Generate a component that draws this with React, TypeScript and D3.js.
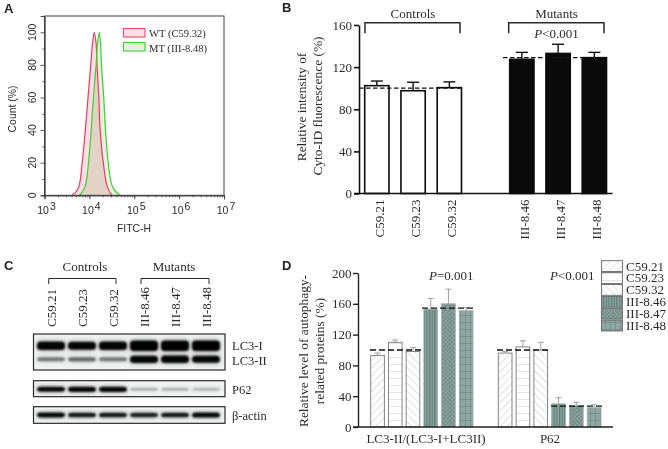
import React, { useEffect, useRef } from 'react';
import { select, scaleLinear, scaleLog, scaleBand, scalePoint, axisLeft, axisBottom, area, line, curveCatmullRom } from 'd3';

const sans = '"Liberation Sans", Arial, sans-serif';
const serif = '"Liberation Serif", "Times New Roman", serif';
const ink = '#2b2b2b';

// Panel A: histogram (log10 FITC-H, count %)
const wtLog = [3.62, 3.75, 3.84, 3.91, 3.97, 4.03, 4.07, 4.11, 4.15, 4.17, 4.21, 4.24, 4.31, 4.4, 4.5];
const wtCount = [0, 4, 20, 40, 60, 80, 93, 100, 93, 80, 60, 40, 20, 5, 0];
const mtLog = [3.78, 3.9, 3.98, 4.04, 4.09, 4.15, 4.18, 4.22, 4.25, 4.27, 4.32, 4.36, 4.42, 4.52, 4.68];
const mtCount = [0, 5, 20, 40, 60, 80, 93, 100, 93, 80, 60, 40, 20, 5, 0];
const decades = [3, 4, 5, 6, 7];
const countTicks = [0, 20, 40, 60, 80, 100];
const countMinor = [10, 30, 50, 70, 90, 110];

// Panel B
const samplesB = ['C59.21', 'C59.23', 'C59.32', 'gap', 'III-8.46', 'III-8.47', 'III-8.48'];
const controlsB = ['C59.21', 'C59.23', 'C59.32'];
const valuesB = [102.4, 97.6, 100.5, 0, 127.4, 133, 129];
const errTopB = [106.8, 105.6, 106, 0, 134, 141.7, 134];
const ticksB = [0, 40, 80, 120, 160];

// Panel C
const lanes = ['C59.21', 'C59.23', 'C59.32', 'III-8.46', 'III-8.47', 'III-8.48'];
const lc3One = [0.76, 0.68, 0.76, 1, 1, 1];
const lc3Two = [0.26, 0.3, 0.26, 0.76, 0.82, 0.72];
const p62Blot = [0.62, 0.7, 0.7, 0.12, 0.12, 0.1];
const actinBlot = [0.6, 0.55, 0.55, 0.52, 0.55, 0.65];

// Panel D
const samplesD = lanes;
const lc3Ratio = [93, 110, 98, 153, 160, 151];
const lc3Err = [96, 113, 103, 167, 179, 155];
const p62Level = [96, 104, 100, 30, 28, 25];
const p62Err = [98, 112, 110, 38, 32, 29];
const ticksD = [0, 40, 80, 120, 160, 200];
const patterns = ['hatchUp', 'hatchFlat', 'hatchDown', 'hatchVert', 'hatchCross', 'hatchGrid'];

const xA = scaleLog().domain([1e3, 1e7]).range([44.5, 224]);
const yA = scaleLinear().domain([0, 110]).range([195.3, 16]);
const xB = scaleBand().domain(samplesB).range([364.7, 606.5]).paddingInner(0.33).paddingOuter(0);
const yB = scaleLinear().domain([0, 160]).range([193.5, 25]);
const xC = scalePoint().domain(lanes).range([51, 206]);
const xD1 = scaleBand().domain(samplesD).range([370.7, 473]).paddingInner(0.23).paddingOuter(0);
const xD2 = scaleBand().domain(samplesD).range([498.3, 601]).paddingInner(0.23).paddingOuter(0);
const yD = scaleLinear().domain([0, 200]).range([427, 273]);
const bandHeight = scaleLinear().domain([0, 1]).range([3, 11]);
const bandAlpha = scaleLinear().domain([0, 0.6, 1]).range([0.14, 0.97, 1]);

const histArea = (log: number[], count: number[]) =>
	area<number>()
		.x((d) => xA(Math.pow(10, d)))
		.y0(yA(0))
		.y1((d, i) => yA(count[i]))
		.curve(curveCatmullRom)(log) || '';
const histLine = (log: number[], count: number[]) =>
	line<number>()
		.x((d) => xA(Math.pow(10, d)))
		.y((d, i) => yA(count[i]))
		.curve(curveCatmullRom)(log) || '';

function Bracket({ x0, x1, y, drop, width = 1.5 }) {
	return <path d={`M${x0},${y + drop}V${y}H${x1}V${y + drop}`} fill="none" stroke={ink} strokeWidth={width} />;
}

function Rotated({ x, y, children, size = 13, family = serif, anchor = 'middle' }) {
	return (
		<text transform={`translate(${x},${y}) rotate(-90)`} textAnchor={anchor} fontFamily={family} fontSize={size} fill={ink}>
			{children}
		</text>
	);
}

function BlotStrip({ y0, y1, rows, id }) {
	const bands = rows.map((row, r) =>
		row.levels.map((v, i) => (
			<rect
				key={`${r}-${i}`}
				x={xC(lanes[i]) - 14}
				y={row.y - (bandHeight(v) * row.scale) / 2}
				width={28}
				height={bandHeight(v) * row.scale}
				rx={3.5}
				fill="#040606"
				opacity={bandAlpha(v)}
			/>
		))
	);
	return (
		<g>
			<clipPath id={id}>
				<rect x={33.5} y={y0} width={191.5} height={y1 - y0} />
			</clipPath>
			<rect x={33.5} y={y0} width={191.5} height={y1 - y0} fill="#f1f3f2" />
			<g clipPath={`url(#${id})`}>
				<g filter="url(#haze)" opacity={0.3}>{bands}</g>
				<g filter="url(#soft)">{bands}</g>
			</g>
			<rect x={33.5} y={y0} width={191.5} height={y1 - y0} fill="none" stroke="#2a2a2a" strokeWidth={1.2} />
		</g>
	);
}

function BarsD({ scale, values, errs }) {
	return (
		<g>
			{samplesD.map((s, i) => {
				const cx = scale(s) + scale.bandwidth() / 2;
				return (
					<g key={s}>
						<line x1={cx} x2={cx} y1={yD(values[i])} y2={yD(errs[i])} stroke="#888" strokeWidth={0.8} />
						<line x1={cx - 3} x2={cx + 3} y1={yD(errs[i])} y2={yD(errs[i])} stroke="#888" strokeWidth={0.8} />
						<rect
							x={scale(s)}
							y={yD(values[i])}
							width={scale.bandwidth()}
							height={yD(0) - yD(values[i])}
							fill={`url(#${patterns[i]})`}
							stroke={i < 3 ? '#777' : '#9fb0ac'}
							strokeWidth={0.9}
						/>
					</g>
				);
			})}
		</g>
	);
}

export default function App() {
	const axisA = useRef<SVGGElement>(null);
	const axisB = useRef<SVGGElement>(null);
	const axisD = useRef<SVGGElement>(null);

	useEffect(() => {
		document.body.style.margin = '0';
		const a = select(axisA.current);
		a.selectAll('*').remove();
		a.append('g')
			.attr('transform', `translate(${xA.range()[0]},0)`)
			.call(axisLeft(yA).tickValues(countTicks).tickSize(4).tickFormat(() => ''));
		a.append('g')
			.attr('transform', `translate(${xA.range()[0]},0)`)
			.call(axisLeft(yA).tickValues(countMinor).tickSize(2).tickFormat(() => ''));
		a.append('g')
			.attr('transform', `translate(0,${yA(0)})`)
			.call(axisBottom(xA).tickValues(decades.map((d) => Math.pow(10, d))).tickSize(4).tickFormat(() => ''));
		a.append('g')
			.attr('transform', `translate(0,${yA(0)})`)
			.call(axisBottom(xA).tickValues(xA.ticks()).tickSize(2).tickFormat(() => ''));
		a.selectAll('path,line').attr('stroke', '#444').attr('stroke-width', 0.9);

		const b = select(axisB.current);
		b.selectAll('*').remove();
		b.append('g')
			.attr('transform', 'translate(359,0)')
			.call(axisLeft(yB).tickValues(ticksB).tickSize(5).tickSizeOuter(0));
		b.selectAll('path,line').attr('stroke', '#111').attr('stroke-width', 1.6);
		b.selectAll('text').attr('font-family', serif).attr('font-size', 13).attr('fill', ink).attr('x', -7);

		const d = select(axisD.current);
		d.selectAll('*').remove();
		d.append('g')
			.attr('transform', 'translate(358,0)')
			.call(axisLeft(yD).tickValues(ticksD).tickSize(5).tickSizeOuter(0));
		d.selectAll('path,line').attr('stroke', '#222').attr('stroke-width', 1.4);
		d.selectAll('text').attr('font-family', serif).attr('font-size', 13).attr('fill', ink).attr('x', -6.5);
	}, []);

	const bw = xB.bandwidth();

	return (
		<svg width={668} height={449} style={{ position: 'absolute', left: 0, top: 0, background: '#fff' }}>
			<defs>
				<filter id="soft" x="-5%" y="-40%" width="110%" height="180%">
					<feGaussianBlur stdDeviation="1.2" />
				</filter>
				<filter id="haze" x="-5%" y="-60%" width="110%" height="220%">
					<feGaussianBlur stdDeviation="3.2" />
				</filter>
				<pattern id="hatchUp" width="5.5" height="5.5" patternUnits="userSpaceOnUse" patternTransform="rotate(45)">
					<rect width="5.5" height="5.5" fill="#fff" />
					<line x1="0" x2="0" y1="0" y2="5.5" stroke="#cfcfcf" strokeWidth="1.2" />
				</pattern>
				<pattern id="hatchFlat" width="6" height="7" patternUnits="userSpaceOnUse">
					<rect width="6" height="7" fill="#fff" />
					<line x1="0" x2="6" y1="0" y2="0" stroke="#d2d2d2" strokeWidth="1.2" />
				</pattern>
				<pattern id="hatchDown" width="5.5" height="5.5" patternUnits="userSpaceOnUse" patternTransform="rotate(-45)">
					<rect width="5.5" height="5.5" fill="#fff" />
					<line x1="0" x2="0" y1="0" y2="5.5" stroke="#cfcfcf" strokeWidth="1.2" />
				</pattern>
				<pattern id="hatchVert" width="2.6" height="6" patternUnits="userSpaceOnUse">
					<rect width="2.6" height="6" fill="#8aa49f" />
					<line x1="0.6" x2="0.6" y1="0" y2="6" stroke="#5c7772" strokeWidth="1" />
				</pattern>
				<pattern id="hatchCross" width="3" height="3" patternUnits="userSpaceOnUse" patternTransform="rotate(45)">
					<rect width="3" height="3" fill="#8ba39e" />
					<path d="M0,0H3M0,0V3" stroke="#5f7a75" strokeWidth="0.9" />
				</pattern>
				<pattern id="hatchGrid" width="5" height="7" patternUnits="userSpaceOnUse">
					<rect width="5" height="7" fill="#8fa8a3" />
					<path d="M0,0H5M0,0V7" stroke="#5f7a75" strokeWidth="0.9" />
				</pattern>
			</defs>

			{/* panel letters */}
			<g fontFamily={sans} fontWeight="bold" fontSize={13} fill="#222">
				<text x={4} y={13}>A</text>
				<text x={282} y={12}>B</text>
				<text x={4} y={270}>C</text>
				<text x={282} y={270}>D</text>
			</g>

			{/* A: histogram */}
			<g style={{ isolation: 'isolate' }}>
				<path d={histArea(wtLog, wtCount)} fill="#fbdfe4" style={{ mixBlendMode: 'multiply' }} />
				<path d={histArea(mtLog, mtCount)} fill="#e6f2de" style={{ mixBlendMode: 'multiply' }} />
			</g>
			<path d={histLine(wtLog, wtCount)} fill="none" stroke="#ee3a62" strokeWidth={1.2} />
			<path d={histLine(mtLog, mtCount)} fill="none" stroke="#3fce2e" strokeWidth={1.2} />
			<rect x={44.5} y={16} width={179.5} height={179.3} fill="none" stroke="#444" strokeWidth={1} />
			<g ref={axisA} />
			{countTicks.map((t) => (
				<Rotated key={t} x={35.5} y={yA(t)} size={10.5} family={sans}>{t}</Rotated>
			))}
			{decades.map((d) => (
				<text key={d} x={xA(Math.pow(10, d)) + 2} y={214} textAnchor="middle" fontFamily={sans} fontSize={10.5} fill={ink}>
					10<tspan dx={1} dy={-4}>{d}</tspan>
				</text>
			))}
			<text x={134} y={232} textAnchor="middle" fontFamily={sans} fontSize={10.4} fill={ink}>FITC-H</text>
			<Rotated x={16} y={109} size={10.4} family={sans}>Count  (%)</Rotated>
			<rect x={123.5} y={28.5} width={21.5} height={8.5} fill="#fbdfe4" stroke="#e8486b" strokeWidth={1.1} />
			<rect x={123.5} y={42.5} width={21.5} height={8.5} fill="#e6f2de" stroke="#3fce2e" strokeWidth={1.1} />
			<text x={149} y={37} fontFamily={serif} fontSize={10.6} fill={ink}>WT (C59.32)</text>
			<text x={149} y={51.5} fontFamily={serif} fontSize={10.6} fill={ink}>MT (III-8.48)</text>

			{/* B: bars */}
			{samplesB.map((s, i) => {
				if (s === 'gap') return null;
				const cx = xB(s) + bw / 2;
				const isControl = controlsB.includes(s);
				return (
					<g key={s}>
						<line x1={cx} x2={cx} y1={yB(valuesB[i])} y2={yB(errTopB[i])} stroke="#111" strokeWidth={1.4} />
						<line x1={cx - 6} x2={cx + 6} y1={yB(errTopB[i])} y2={yB(errTopB[i])} stroke="#111" strokeWidth={1.4} />
						<rect
							x={xB(s)}
							y={yB(valuesB[i])}
							width={bw}
							height={yB(0) - yB(valuesB[i])}
							fill={isControl ? '#fff' : '#0a0a0a'}
							stroke="#0a0a0a"
							strokeWidth={1.6}
						/>
						<Rotated x={cx + 7} y={199.5} anchor="end">{s}</Rotated>
					</g>
				);
			})}
			<line x1={359} x2={463} y1={yB(100)} y2={yB(100)} stroke="#111" strokeWidth={1.3} strokeDasharray="4.5 2.5" />
			<line x1={503} x2={608} y1={yB(129)} y2={yB(129)} stroke="#111" strokeWidth={1.3} strokeDasharray="4.5 2.5" />
			<line x1={354} x2={612.5} y1={yB(0)} y2={yB(0)} stroke="#111" strokeWidth={1.5} />
			<g ref={axisB} />
			<Bracket x0={365} x1={460} y={22.7} drop={10.5} />
			<Bracket x0={508.7} x1={604} y={22.7} drop={10.5} />
			<text x={413} y={18} textAnchor="middle" fontFamily={serif} fontSize={13} fill={ink}>Controls</text>
			<text x={556.5} y={18} textAnchor="middle" fontFamily={serif} fontSize={13} fill={ink}>Mutants</text>
			<text x={556.5} y={38} textAnchor="middle" fontFamily={serif} fontSize={13} fill={ink}>
				<tspan fontStyle="italic">P</tspan>{'<0.001'}
			</text>
			<Rotated x={306} y={107} size={13.4}>Relative intensity of</Rotated>
			<Rotated x={322} y={106} size={13.4}>Cyto-ID fluorescence (%)</Rotated>

			{/* C: blots */}
			<BlotStrip id="clipLc3" y0={334} y1={370} rows={[
				{ y: 345.7, levels: lc3One, scale: 0.95 },
				{ y: 359.3, levels: lc3Two, scale: 0.8 },
			]} />
			<BlotStrip id="clipP62" y0={380.7} y1={396.7} rows={[{ y: 389.3, levels: p62Blot, scale: 0.62 }]} />
			<BlotStrip id="clipActin" y0={406.7} y1={423.3} rows={[{ y: 415, levels: actinBlot, scale: 0.62 }]} />
			{lanes.map((s) => (
				<Rotated key={s} x={xC(s) + 5} y={327} anchor="start">{s}</Rotated>
			))}
			<Bracket x0={48.7} x1={116} y={278.5} drop={5.5} width={1} />
			<Bracket x0={141} x1={209} y={278.5} drop={5.5} width={1} />
			<text x={85} y={271} textAnchor="middle" fontFamily={serif} fontSize={13} fill={ink}>Controls</text>
			<text x={174} y={271} textAnchor="middle" fontFamily={serif} fontSize={13} fill={ink}>Mutants</text>
			<g fontFamily={serif} fontSize={12.5} fill={ink}>
				<text x={232} y={350}>LC3-I</text>
				<text x={232} y={364.5}>LC3-II</text>
				<text x={232} y={394}>P62</text>
				<text x={232} y={420}>β-actin</text>
			</g>

			{/* D: grouped bars */}
			<BarsD scale={xD1} values={lc3Ratio} errs={lc3Err} />
			<BarsD scale={xD2} values={p62Level} errs={p62Err} />
			<g stroke="#111" strokeWidth={1.3} strokeDasharray="6 3">
				<line x1={370} x2={421} y1={yD(100)} y2={yD(100)} />
				<line x1={422} x2={475} y1={yD(154.5)} y2={yD(154.5)} />
				<line x1={497} x2={549} y1={yD(100)} y2={yD(100)} />
				<line x1={551} x2={602} y1={yD(27)} y2={yD(27)} />
			</g>
			<line x1={353} x2={613} y1={yD(0)} y2={yD(0)} stroke="#222" strokeWidth={1.4} />
			<g ref={axisD} />
			<Rotated x={308} y={351} size={13.4}>Relative level of autophagy-</Rotated>
			<Rotated x={324} y={351} size={13.4}>related proteins (%)</Rotated>
			<text x={426} y={443} textAnchor="middle" fontFamily={serif} fontSize={13} fill={ink}>LC3-II/(LC3-I+LC3II)</text>
			<text x={550} y={443} textAnchor="middle" fontFamily={serif} fontSize={13} fill={ink}>P62</text>
			<text x={429} y={280} fontFamily={serif} fontSize={13} fill={ink}>
				<tspan fontStyle="italic">P</tspan>=0.001
			</text>
			<text x={550} y={280} fontFamily={serif} fontSize={13} fill={ink}>
				<tspan fontStyle="italic">P</tspan>{'<0.001'}
			</text>
			{samplesD.map((s, i) => (
				<g key={s}>
					<rect x={601.5} y={260.7 + i * 11.9} width={21} height={10.8} fill={`url(#${patterns[i]})`} stroke="#666" strokeWidth={0.9} />
					<text x={626} y={270.5 + i * 11.9} fontFamily={serif} fontSize={13} fill={ink}>{s}</text>
				</g>
			))}
		</svg>
	);
}
